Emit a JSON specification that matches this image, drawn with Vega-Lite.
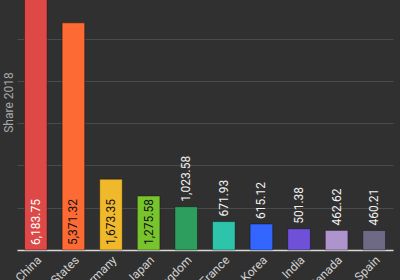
{
  "$schema": "https://vega.github.io/schema/vega-lite/v6.json",
  "width": 376,
  "height": 296,
  "autosize": {"type": "none"},
  "padding": {"left": 17, "top": -46, "right": 7, "bottom": 30},
  "background": "#303030",
  "config": {
    "view": {"stroke": null},
    "font": "Roboto",
    "axis": {"labelFont": "Roboto", "titleFont": "Roboto"}
  },
  "data": {
    "values": [
      {"country": "China", "value": 6183.75, "color": "#de4847"},
      {"country": "United States", "value": 5371.32, "color": "#fd6a34"},
      {"country": "Germany", "value": 1673.35, "color": "#f0b92b"},
      {"country": "Japan", "value": 1275.58, "color": "#78c42c"},
      {"country": "United Kingdom", "value": 1023.58, "color": "#2e9e5e"},
      {"country": "France", "value": 671.93, "color": "#2ec4ab"},
      {"country": "South Korea", "value": 615.12, "color": "#3366ff"},
      {"country": "India", "value": 501.38, "color": "#6f51d8"},
      {"country": "Canada", "value": 462.62, "color": "#ae94cc"},
      {"country": "Spain", "value": 460.21, "color": "#6e6a85"}
    ]
  },
  "encoding": {
    "x": {
      "field": "country",
      "type": "nominal",
      "sort": null,
      "scale": {"paddingInner": 0.4, "paddingOuter": 0.2},
      "axis": {
        "title": null,
        "labelAngle": -45,
        "labelColor": "#d0d0d0",
        "labelFontSize": 12,
        "ticks": false,
        "domainColor": "#d8d8d8",
        "domainWidth": 1.5,
        "labelPadding": 4,
        "grid": false
      }
    }
  },
  "layer": [
    {
      "mark": {"type": "bar", "strokeWidth": 1, "strokeOpacity": 0.35},
      "encoding": {
        "y": {
          "field": "value",
          "type": "quantitative",
          "scale": {"domain": [0, 7000]},
          "axis": {
            "title": "Share 2018",
            "titleColor": "#a8a8a8",
            "titleFontSize": 12,
            "titleFontWeight": "normal",
            "titlePadding": 2,
            "labels": false,
            "ticks": false,
            "domain": false,
            "gridColor": "#4a4a4a",
            "gridWidth": 1.2,
            "tickCount": 7
          }
        },
        "fill": {"field": "color", "type": "nominal", "scale": null},
        "stroke": {"value": "#000000"}
      }
    },
    {
      "transform": [{"filter": "datum.value >= 1200"}],
      "mark": {"type": "text", "angle": -90, "align": "left", "baseline": "middle", "dx": 5, "fontSize": 12},
      "encoding": {
        "y": {"datum": 0, "type": "quantitative"},
        "text": {"field": "value", "type": "quantitative", "format": ",.2f"},
        "color": {
          "condition": {"test": "datum.country === 'China'", "value": "#ffffff"},
          "value": "#111111"
        }
      }
    },
    {
      "transform": [{"filter": "datum.value < 1200"}],
      "mark": {"type": "text", "angle": -90, "align": "left", "baseline": "middle", "dx": 5, "fontSize": 12, "color": "#f0f0f0"},
      "encoding": {
        "y": {"field": "value", "type": "quantitative"},
        "text": {"field": "value", "type": "quantitative", "format": ",.2f"}
      }
    }
  ]
}
